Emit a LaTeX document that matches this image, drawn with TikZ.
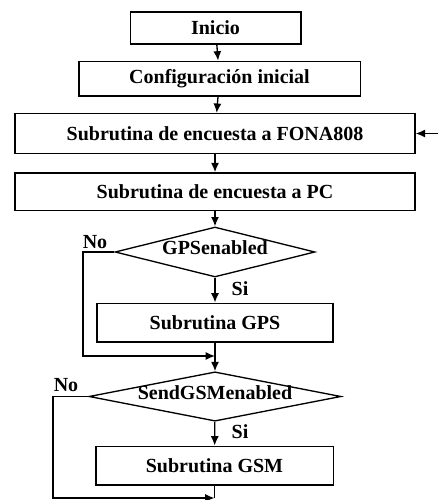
\documentclass[tikz,border=0pt]{standalone}
\usepackage{fontspec}
\setmainfont{Liberation Serif}
\usetikzlibrary{arrows.meta,shapes.geometric}
\tikzset{
  fc box/.style={
    rectangle,draw=black,line width=1pt,inner sep=0pt,
    font=\fontsize{15}{17}\selectfont\bfseries
  },
  fc diam/.style={
    diamond,draw=black,line width=1pt,inner sep=0pt,shape aspect=5
  },
  fc edge/.style={black,line width=1pt},
  fc arrow/.style={fc edge,-{Latex[length=7pt,width=6pt]}},
  fc lbl/.style={font=\fontsize{15}{17}\selectfont\bfseries,inner sep=0pt}
}

\begin{document}
\begin{tikzpicture}[x=0.75pt,y=-0.75pt]
  \useasboundingbox (0,0) rectangle (438,500);

  \node[fc box,minimum width=128pt,minimum height=24pt] (inicio) at (215.5,28) {Inicio};
  \node[fc box,minimum width=211pt,minimum height=26pt] (config) at (219.5,78.5) {Configuración inicial};
  \node[fc box,minimum width=300pt,minimum height=30pt] (fona) at (215,133.5) {Subrutina de encuesta a FONA808};
  \node[fc box,minimum width=300pt,minimum height=28pt] (pc) at (215,191.5) {Subrutina de encuesta a PC};
  \node[fc diam,minimum width=150pt,minimum height=37.5pt,
    label={[fc lbl,yshift=3pt]center:GPSenabled}] (gpsq) at (215,252) {};
  \node[fc box,minimum width=177pt,minimum height=29pt] (gps) at (215,322.5) {Subrutina GPS};
  \node[fc diam,minimum width=189pt,minimum height=37pt,
    label={[fc lbl,yshift=3pt]center:SendGSMenabled}] (gsmq) at (215,396.5) {};
  \node[fc box,minimum width=178pt,minimum height=29pt] (gsm) at (214.5,465.5) {Subrutina GSM};

  \coordinate (back) at (438,133.5);
  \coordinate (j1) at (215,356);
  \coordinate (j2) at (214.5,498);

  \draw[fc arrow] (inicio) -- (config);
  \draw[fc arrow] (config) -- (fona);
  \draw[fc arrow] (back) -- (fona.east);
  \draw[fc arrow] (fona) -- (pc);
  \draw[fc arrow] (pc) -- (gpsq);
  \draw[fc arrow] (gpsq) -- (gps);
  \draw[fc arrow] (gpsq.west) -- (83,252) |- (j1);
  \draw[fc edge] (gps.south) -- (j1);
  \draw[fc arrow] (j1) -- (gsmq.north);
  \draw[fc arrow] (gsmq) -- (gsm);
  \draw[fc arrow] (gsmq.west) -- (53,396.5) |- (j2);
  \draw[fc edge] (gsm.south) -- (j2);

  \node[fc lbl] (no1) at (95,242) {No};
  \node[fc lbl] (si1) at (240,289) {Si};
  \node[fc lbl] (no2) at (66,385) {No};
  \node[fc lbl] (si2) at (240,432) {Si};
\end{tikzpicture}
\end{document}
